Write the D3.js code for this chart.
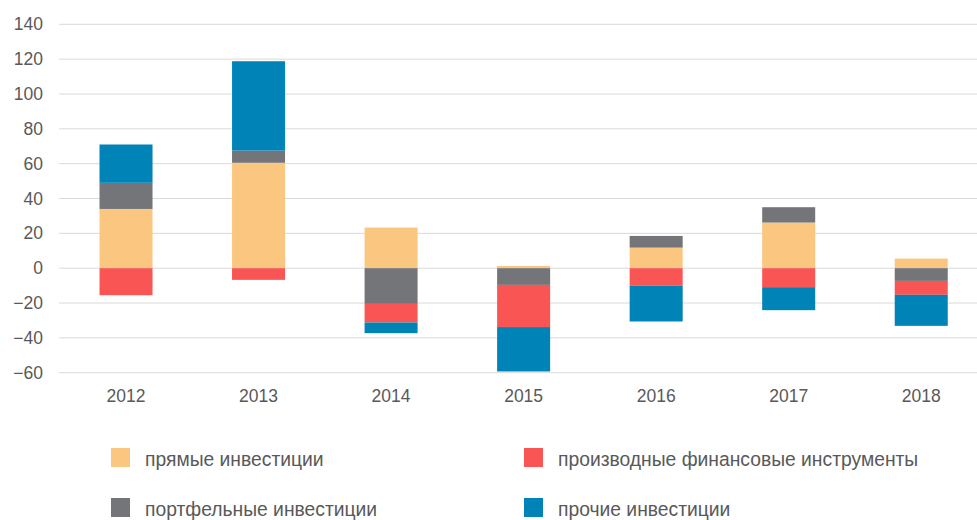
<!DOCTYPE html>
<html>
<head>
<meta charset="utf-8">
<script src="https://cdn.jsdelivr.net/npm/d3@7"></script>
<style>
  html, body { margin: 0; padding: 0; background: #fff; }
  svg text { font-family: "Liberation Sans", Arial, sans-serif; fill: #595959; }
</style>
</head>
<body>
<svg id="chart" width="977" height="520"></svg>
<script>
// Years on the category axis
const years = ["2012", "2013", "2014", "2015", "2016", "2017", "2018"];

// Components of the financial account, млрд долл.
const directInvestment    = [34.0, 60.5, 23.3, 1.3, 11.8, 26.2, 5.5];
const portfolioInvestment = [15.0, 7.0, -20.5, -9.6, 6.7, 8.8, -7.3];
const derivatives         = [-15.5, -6.7, -10.7, -24.2, -10.0, -10.9, -8.0];
const otherInvestment     = [22.0, 51.3, -6.1, -25.5, -20.6, -13.2, -17.8];

const seriesNames = ["прямые инвестиции", "портфельные инвестиции",
                     "производные финансовые инструменты", "прочие инвестиции"];
const seriesColors = ["#FBC680", "#747579", "#FA5555", "#0083B7"];

// Y axis ticks
const yTicks = [-60, -40, -20, 0, 20, 40, 60, 80, 100, 120, 140];

const keys = ["direct", "portfolio", "derivatives", "other"];
const table = years.map((y, i) => ({
  year: y,
  direct: directInvestment[i],
  portfolio: portfolioInvestment[i],
  derivatives: derivatives[i],
  other: otherInvestment[i]
}));

const svg = d3.select("#chart");

const x = d3.scaleBand()
  .domain(years)
  .range([59.75, 987.5])
  .paddingInner(0.6)
  .paddingOuter(0.3);

const y = d3.scaleLinear()
  .domain([-60, 140])
  .range([372.7, 24.3]);

// Horizontal gridlines
svg.append("g")
  .selectAll("line")
  .data(yTicks)
  .join("line")
  .attr("x1", 59)
  .attr("x2", 977)
  .attr("y1", d => y(d))
  .attr("y2", d => y(d))
  .attr("stroke", "#D9D9D9")
  .attr("stroke-width", 1);

// Y tick labels
const yAxis = d3.axisLeft(y).tickValues(yTicks).tickSize(0).tickPadding(0);
svg.append("g")
  .attr("transform", "translate(43,0)")
  .call(yAxis)
  .call(g => g.select(".domain").remove())
  .call(g => g.selectAll("text")
    .attr("font-size", "17.5px")
    .style("font-family", "'Liberation Sans', Arial, sans-serif")
    .attr("fill", "#595959"));

// X tick labels
const xAxis = d3.axisBottom(x).tickSize(0).tickPadding(0);
svg.append("g")
  .attr("transform", "translate(0,390)")
  .call(xAxis)
  .call(g => g.select(".domain").remove())
  .call(g => g.selectAll("text")
    .attr("font-size", "17.5px")
    .style("font-family", "'Liberation Sans', Arial, sans-serif")
    .attr("fill", "#595959"));

// Stacked bars (diverging around zero)
const stacked = d3.stack()
  .keys(keys)
  .offset(d3.stackOffsetDiverging)(table);

svg.append("g")
  .selectAll("g")
  .data(stacked)
  .join("g")
  .attr("fill", (d, i) => seriesColors[i])
  .selectAll("rect")
  .data(d => d)
  .join("rect")
  .attr("x", d => x(d.data.year))
  .attr("width", x.bandwidth())
  .attr("y", d => y(Math.max(d[0], d[1])))
  .attr("height", d => Math.abs(y(d[0]) - y(d[1])));

// Legend: two columns, two rows
const legendItems = [
  { idx: 0, x: 111, y: 448 },
  { idx: 2, x: 524, y: 448 },
  { idx: 1, x: 111, y: 498 },
  { idx: 3, x: 524, y: 498 }
];
const legend = svg.append("g");
legendItems.forEach(it => {
  legend.append("rect")
    .attr("x", it.x)
    .attr("y", it.y)
    .attr("width", 19)
    .attr("height", 19)
    .attr("fill", seriesColors[it.idx]);
  legend.append("text")
    .attr("x", it.x + 34)
    .attr("y", it.y + 18)
    .attr("font-size", "19.3px")
    .text(seriesNames[it.idx]);
});
</script>
</body>
</html>
